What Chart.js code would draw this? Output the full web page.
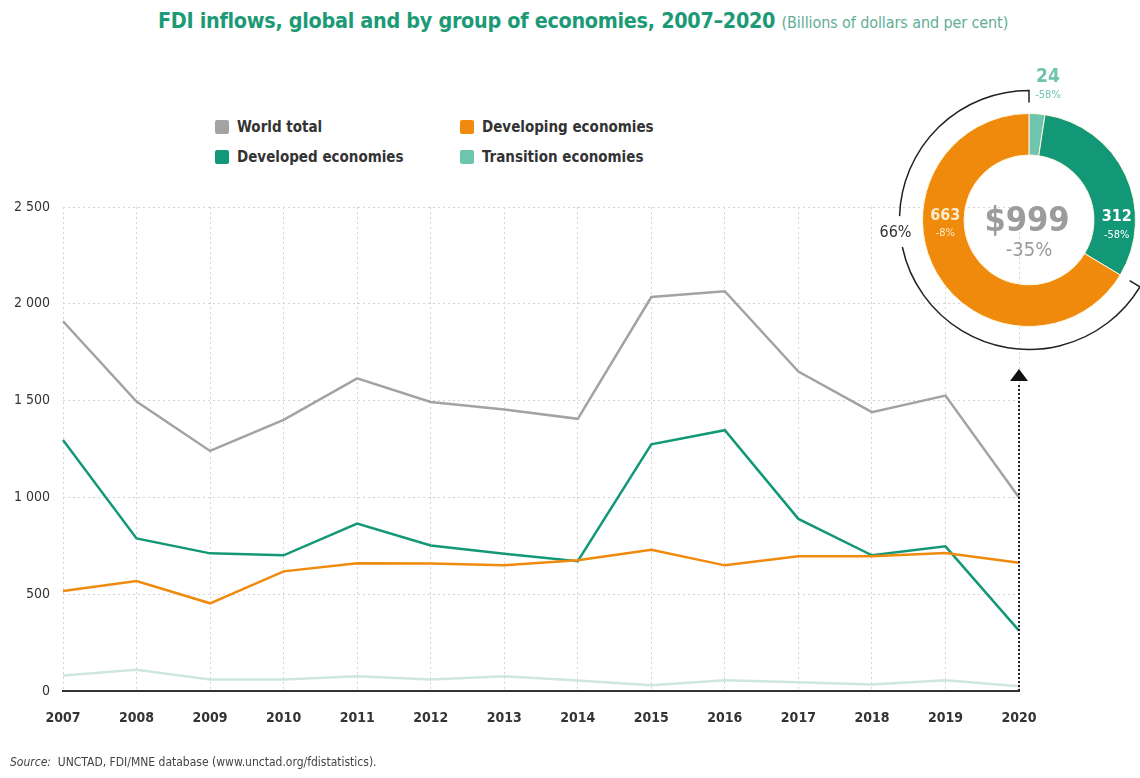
<!DOCTYPE html>
<html lang="en">
<head>
<meta charset="UTF-8" />
<title>FDI inflows, global and by group of economies, 2007–2020</title>
<script src="https://cdn.jsdelivr.net/npm/chart.js"></script>
<style>
  body {
    margin: 0;
    width: 1140px;
    height: 778px;
    position: relative;
    overflow: hidden;
    background: #fff;
    font-family: "Liberation Sans Narrow", "DejaVu Sans Condensed", "Arial Narrow", sans-serif;
  }
  #title {
    position: absolute;
    left: 158px;
    top: 8px;
    white-space: nowrap;
    color: #1c9a76;
    font-size: 21.4px;
    font-weight: bold;
    letter-spacing: -0.3px;
  }
  #title span {
    font-size: 16px;
    font-weight: normal;
    color: #5fae95;
    letter-spacing: -0.1px;
  }
  #legend {
    position: absolute;
    left: 215px;
    top: 116px;
    display: grid;
    grid-template-columns: 245px 200px;
    row-gap: 8px;
    font-size: 15px;
    font-weight: bold;
    color: #333;
  }
  #legend div { display: flex; align-items: center; height: 22px; }
  #legend i {
    display: inline-block;
    width: 14px;
    height: 14px;
    border-radius: 2px;
    margin-right: 8px;
  }
  canvas { position: absolute; }
  #source {
    position: absolute;
    left: 10px;
    top: 755px;
    font-size: 12px;
    color: #444;
  }
</style>
</head>
<body>

<div id="title">FDI inflows, global and by group of economies, 2007–2020 <span>(Billions of dollars and per cent)</span></div>
<div id="legend"></div>
<canvas id="lineChart" width="1140" height="778" style="left:0;top:0"></canvas>
<canvas id="donutChart" width="280" height="310" style="left:860px;top:60px"></canvas>
<div id="source"><i>Source:</i>&nbsp; UNCTAD, FDI/MNE database (www.unctad.org/fdistatistics).</div>

<script>
  const FONT = '"Liberation Sans Narrow", "DejaVu Sans Condensed", "Arial Narrow", sans-serif';

  const years = ['2007', '2008', '2009', '2010', '2011', '2012', '2013', '2014', '2015', '2016', '2017', '2018', '2019', '2020'];
  const worldTotal = [1910, 1495, 1240, 1400, 1615, 1493, 1454, 1406, 2035, 2065, 1650, 1440, 1526, 999];
  const developed = [1296, 788, 711, 701, 865, 752, 709, 670, 1274, 1347, 889, 701, 747, 312];
  const developing = [517, 568, 453, 618, 660, 658, 649, 675, 730, 649, 696, 696, 713, 663];
  const transition = [80, 110, 59, 59, 76, 59, 76, 54, 30, 56, 45, 33, 55, 24];

  const yTicks = [0, 500, 1000, 1500, 2000, 2500];

  // 2020 breakdown for the ring
  const groups2020 = ['Transition economies', 'Developed economies', 'Developing economies'];
  const values2020 = [24, 312, 663];
  const change2020 = ['-58%', '-58%', '-8%'];
  const total2020 = 999;
  const totalChange = '-35%';
  const developingShare = '66%';

  const legendNames = ['World total', 'Developing economies', 'Developed economies', 'Transition economies'];
  const legendColors = ['#a3a3a3', '#f08a0c', '#139877', '#6fc4ae'];

  const legendEl = document.getElementById('legend');
  legendNames.forEach((name, i) => {
    legendEl.innerHTML += `<div><i style="background:${legendColors[i]}"></i>${name}</div>`;
  });

  const fmt = v => String(v).replace(/\B(?=(\d{3})+(?!\d))/g, ' ');

  // dotted pointer from the 2020 point up to the ring
  const markerPlugin = {
    id: 'marker2020',
    afterDatasetsDraw(chart) {
      const { ctx, scales } = chart;
      const x = scales.x.getPixelForValue(years.length - 1);
      const y0 = scales.y.getPixelForValue(0);
      ctx.save();
      ctx.strokeStyle = '#222';
      ctx.lineWidth = 2;
      ctx.setLineDash([2, 2]);
      ctx.beginPath();
      ctx.moveTo(x, y0);
      ctx.lineTo(x, 384);
      ctx.stroke();
      ctx.setLineDash([]);
      ctx.fillStyle = '#111';
      ctx.beginPath();
      ctx.moveTo(x, 369);
      ctx.lineTo(x + 9, 381);
      ctx.lineTo(x - 9, 381);
      ctx.closePath();
      ctx.fill();
      ctx.restore();
    }
  };

  new Chart(document.getElementById('lineChart'), {
    type: 'line',
    data: {
      labels: years,
      datasets: [
        { label: 'Transition economies', data: transition, borderColor: '#cde7e0' },
        { label: 'Developing economies', data: developing, borderColor: '#f08a0c' },
        { label: 'Developed economies', data: developed, borderColor: '#139877' },
        { label: 'World total', data: worldTotal, borderColor: '#a3a3a3' }
      ]
    },
    options: {
      responsive: false,
      animation: false,
      layout: { padding: { left: 0, right: 121, top: 207, bottom: 47 } },
      elements: {
        point: { radius: 0 },
        line: { borderWidth: 2.5, tension: 0 }
      },
      plugins: {
        legend: { display: false },
        tooltip: { enabled: false }
      },
      scales: {
        x: {
          grid: { color: '#d4d4d4', drawTicks: false },
          border: { display: true, color: '#333', width: 2, dash: [2, 3] },
          ticks: { color: '#333', padding: 19, font: { family: FONT, size: 14, weight: 'bold' }, maxRotation: 0 },
          afterFit(scale) { scale.paddingLeft = 0; scale.paddingRight = 0; scale.height = 40; }
        },
        y: {
          min: 0,
          max: 2500,
          afterBuildTicks(scale) { scale.ticks = yTicks.map(v => ({ value: v })); },
          grid: { color: '#d4d4d4', drawTicks: false },
          border: { display: false, dash: [2, 3] },
          ticks: { color: '#333', padding: 13, font: { family: FONT, size: 14 }, callback: v => fmt(v) },
          afterFit(scale) { scale.width = 63; }
        }
      }
    },
    plugins: [markerPlugin]
  });

  // labels, centre total and bracket around the developing share
  const ringPlugin = {
    id: 'ringLabels',
    afterDraw(chart) {
      const { ctx } = chart;
      const meta = chart.getDatasetMeta(0);
      const arc = meta.data[2];
      const cx = arc.x, cy = arc.y, R = arc.outerRadius, r = arc.innerRadius;
      const mid = (R + r) / 2;
      ctx.save();
      ctx.textAlign = 'center';
      ctx.textBaseline = 'middle';

      // centre
      ctx.fillStyle = '#9c9c9c';
      ctx.font = `bold 34px ${FONT}`;
      ctx.fillText('$' + total2020, cx - 2, cy + 2);
      ctx.font = `20px ${FONT}`;
      ctx.fillText(totalChange, cx, cy + 31);

      // developing (left)
      ctx.fillStyle = '#fdeccb';
      ctx.font = `bold 16px ${FONT}`;
      ctx.fillText(values2020[2], cx - mid + 2, cy - 4);
      ctx.font = `11px ${FONT}`;
      ctx.fillText(change2020[2], cx - mid + 2, cy + 13);

      // developed (right)
      ctx.fillStyle = '#fff';
      ctx.font = `bold 16px ${FONT}`;
      ctx.fillText(values2020[1], cx + mid + 2, cy - 3);
      ctx.font = `11px ${FONT}`;
      ctx.fillText(change2020[1], cx + mid + 2, cy + 15);

      // transition (top, outside)
      ctx.fillStyle = '#6fc4ae';
      ctx.font = `bold 19px ${FONT}`;
      ctx.fillText(values2020[0], cx + 19, cy - 143);
      ctx.font = `11px ${FONT}`;
      ctx.fillText(change2020[0], cx + 19, cy - 125);

      // bracket
      const B = R + 23;
      const a0 = arc.startAngle, a1 = arc.endAngle;
      ctx.strokeStyle = '#222';
      ctx.lineWidth = 1.5;
      ctx.beginPath();
      ctx.moveTo(cx + (B - 12) * Math.cos(a0), cy + (B - 12) * Math.sin(a0));
      ctx.lineTo(cx + B * Math.cos(a0), cy + B * Math.sin(a0));
      ctx.arc(cx, cy, B, a0, Math.PI - 0.21);
      ctx.stroke();
      ctx.beginPath();
      ctx.arc(cx, cy, B, Math.PI + 0.03, a1);
      ctx.lineTo(cx + (B - 12) * Math.cos(a1), cy + (B - 12) * Math.sin(a1));
      ctx.stroke();

      ctx.fillStyle = '#333';
      ctx.font = `16px ${FONT}`;
      ctx.fillText(developingShare, cx - B - 4, cy + 13);
      ctx.restore();
    }
  };

  new Chart(document.getElementById('donutChart'), {
    type: 'doughnut',
    data: {
      labels: groups2020,
      datasets: [{
        data: values2020,
        backgroundColor: ['#6fc4ae', '#139877', '#f08a0c'],
        borderColor: '#fff6e0',
        borderWidth: 1,
        hoverOffset: 0
      }]
    },
    options: {
      responsive: false,
      animation: false,
      cutout: '61%',
      layout: { padding: { left: 62, right: 4, top: 53, bottom: 43 } },
      plugins: {
        legend: { display: false },
        tooltip: { enabled: false }
      }
    },
    plugins: [ringPlugin]
  });
</script>

</body>
</html>
